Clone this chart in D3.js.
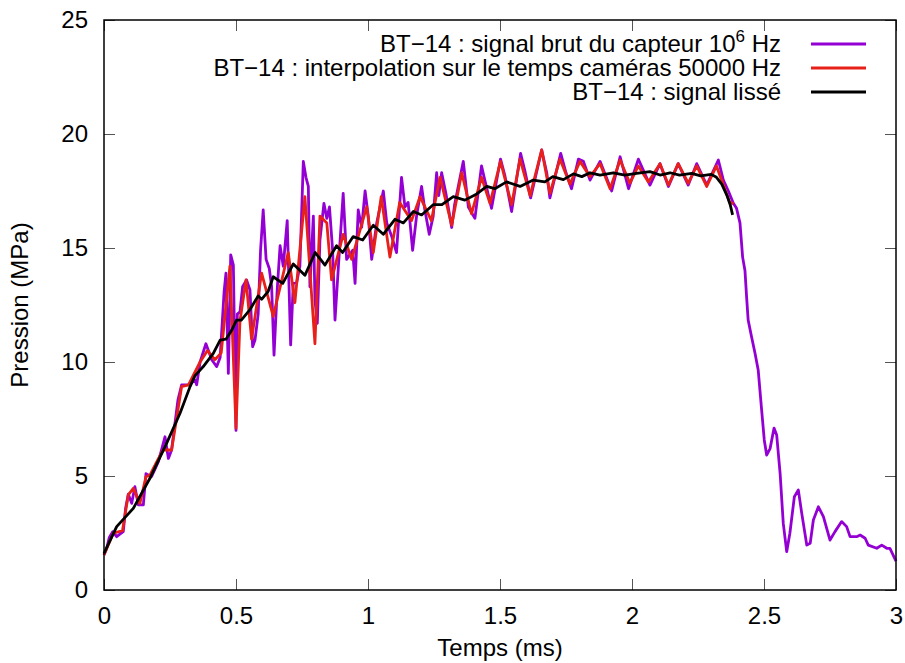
<!DOCTYPE html>
<html>
<head>
<meta charset="utf-8">
<script src="https://cdn.jsdelivr.net/npm/d3@7/dist/d3.min.js"></script>
<style>
  html, body { margin: 0; padding: 0; background: #fff; }
  svg { display: block; font-family: "Liberation Sans", Arial, sans-serif; }
</style>
</head>
<body>
<svg id="chart" width="905" height="663"></svg>
<script>
// Raw sensor signal (1 MHz), time in ms, pressure in MPa
const rawTime = [0,0.01,0.02,0.033,0.048,0.06,0.073,0.082,0.092,0.105,0.117,0.13,0.149,0.159,0.18,0.206,0.231,0.244,0.256,0.28,0.294,0.32,0.345,0.351,0.364,0.386,0.402,0.408,0.427,0.44,0.455,0.462,0.471,0.48,0.49,0.5,0.505,0.515,0.525,0.54,0.553,0.563,0.572,0.584,0.593,0.603,0.614,0.626,0.635,0.644,0.656,0.667,0.679,0.694,0.707,0.717,0.73,0.742,0.755,0.765,0.774,0.78,0.793,0.799,0.808,0.818,0.833,0.844,0.854,0.866,0.875,0.888,0.906,0.919,0.942,0.951,0.963,0.976,0.989,1.001,1.014,1.033,1.058,1.071,1.09,1.108,1.127,1.14,1.152,1.169,1.184,1.203,1.215,1.232,1.247,1.26,1.268,1.279,1.295,1.317,1.328,1.361,1.38,1.405,1.43,1.442,1.468,1.502,1.518,1.544,1.578,1.594,1.616,1.658,1.677,1.689,1.73,1.75,1.771,1.797,1.816,1.841,1.879,1.923,1.955,1.987,2.024,2.068,2.106,2.138,2.175,2.213,2.245,2.283,2.327,2.346,2.365,2.384,2.396,2.409,2.419,2.428,2.434,2.44,2.453,2.466,2.478,2.491,2.501,2.51,2.523,2.538,2.548,2.561,2.573,2.586,2.598,2.615,2.63,2.643,2.662,2.675,2.687,2.706,2.725,2.75,2.769,2.794,2.813,2.826,2.851,2.864,2.883,2.895,2.927,2.946,2.965,2.977,3.0];
const rawValue = [1.54,1.83,2.3,2.56,2.34,2.45,2.56,3.6,4.2,3.8,4.53,3.73,3.73,5.1,4.97,5.63,6.72,5.77,6.14,8.33,9.0,9.0,9.2,9.0,10.0,10.8,10.3,10.1,9.8,10.2,13.1,13.9,9.5,14.7,14.25,7.0,12.1,12.2,13.3,13.6,13.16,10.67,10.96,12.1,14.9,16.67,14.5,14.1,13.3,10.3,13.16,15.1,14.2,16.2,10.75,13.45,13.5,14.2,18.8,18.1,17.7,13.3,16.4,12.7,11.7,15.35,16.96,16.3,16.8,14.9,11.84,14.2,17.4,14.5,14.9,13.45,16.67,15.9,17.5,16.4,14.5,16.1,17.5,16.1,15.5,14.8,18.1,16.8,17.0,14.9,16.4,17.7,16.7,15.6,16.4,18.3,17.3,18.3,17.4,15.9,16.9,18.8,16.8,16.3,18.6,18.0,16.74,18.9,18.2,16.6,19.15,18.4,17.2,19.3,18.3,17.2,19.15,18.3,17.6,18.9,18.8,17.98,18.8,17.5,19.0,17.6,18.9,17.76,18.7,17.7,18.7,17.76,18.7,17.76,18.86,17.98,17.5,16.96,16.74,16.1,14.6,14.0,12.87,11.84,11.1,10.38,9.65,7.9,6.58,5.92,6.2,7.1,6.8,5.12,2.92,1.68,2.49,4.09,4.39,3.36,1.97,2.05,3.07,3.65,3.22,2.19,2.56,3.0,2.78,2.34,2.34,2.41,2.27,1.97,1.83,1.97,1.83,1.83,1.27];

// Signal interpolated on camera frame times (50 kHz)
const interpTime = [0,0.035,0.07,0.092,0.111,0.136,0.159,0.174,0.2,0.224,0.256,0.294,0.32,0.364,0.392,0.42,0.444,0.477,0.5,0.515,0.538,0.559,0.597,0.641,0.698,0.723,0.761,0.799,0.818,0.844,0.862,0.906,0.938,0.995,1.02,1.05,1.083,1.12,1.165,1.197,1.24,1.273,1.317,1.355,1.392,1.43,1.462,1.502,1.544,1.576,1.614,1.658,1.689,1.727,1.765,1.803,1.841,1.879,1.917,1.955,1.992,2.024,2.062,2.106,2.138,2.175,2.213,2.245,2.283,2.32,2.37,2.384];
const interpValue = [1.54,2.49,2.6,4.17,4.46,3.8,4.97,5.04,5.63,6.14,6.14,8.92,9.0,10.0,10.5,10.1,10.4,14.2,7.1,11.8,13.6,11.0,13.9,12.0,14.8,12.6,17.25,10.8,16.4,16.1,13.6,15.6,14.5,16.8,14.8,17.25,14.6,17.0,16.2,17.25,16.2,18.1,16.0,18.3,16.5,18.1,16.96,18.8,16.9,18.9,17.3,19.3,17.4,18.9,17.8,18.8,18.13,18.7,17.6,18.86,17.84,18.6,17.9,18.7,17.76,18.7,17.84,18.6,17.7,18.6,17.0,16.95];

// Smoothed signal
const smoothTime = [0,0.02,0.048,0.111,0.174,0.237,0.288,0.326,0.345,0.376,0.414,0.44,0.462,0.484,0.502,0.52,0.553,0.584,0.597,0.622,0.641,0.677,0.717,0.761,0.8,0.837,0.881,0.904,0.944,0.98,1.02,1.058,1.102,1.134,1.172,1.203,1.247,1.28,1.323,1.367,1.412,1.45,1.48,1.525,1.576,1.626,1.67,1.7,1.74,1.778,1.81,1.841,1.879,1.929,1.973,2.017,2.068,2.106,2.144,2.18,2.226,2.26,2.3,2.32,2.34,2.36,2.372,2.381];
const smoothValue = [1.6,2.1,2.78,3.58,4.9,6.43,7.75,8.92,9.4,9.8,10.38,10.96,11.0,11.4,11.84,11.84,12.3,12.9,12.75,13.1,13.74,13.45,14.3,13.8,14.8,14.25,15.1,14.8,15.5,15.35,16.0,15.6,16.26,16.1,16.6,16.45,16.9,16.9,17.25,17.1,17.37,17.7,17.6,17.9,17.7,17.98,17.9,18.13,18.0,18.25,18.13,18.3,18.2,18.3,18.2,18.27,18.35,18.2,18.3,18.2,18.27,18.16,18.23,18.1,17.8,17.3,16.9,16.45];

const xTicks = [0, 0.5, 1, 1.5, 2, 2.5, 3];
const yTicks = [0, 5, 10, 15, 20, 25];

const seriesNames = [
  "BT\u221214 : signal brut du capteur 10",
  "BT\u221214 : interpolation sur le temps caméras 50000 Hz",
  "BT\u221214 : signal lissé"
];
const seriesColors = ["#9400d3", "#e8201a", "#000000"];

const svg = d3.select("#chart");
const margin = { left: 104, right: 9, top: 20, bottom: 73 };
const W = 905, H = 663;
const x = d3.scaleLinear().domain([0, 3]).range([margin.left, W - margin.right]);
const y = d3.scaleLinear().domain([0, 25]).range([H - margin.bottom, margin.top]);

const tickLen = 11;
const fontSize = 24;

// Axes: ticks pointing inward, mirrored on the opposite side
const gx = svg.append("g").attr("transform", `translate(0,${y(0)})`)
  .call(d3.axisBottom(x).tickValues(xTicks).tickSize(-tickLen).tickPadding(17).tickFormat(d3.format("")));
const gxt = svg.append("g").attr("transform", `translate(0,${y(25)})`)
  .call(d3.axisTop(x).tickValues(xTicks).tickSize(-tickLen).tickFormat(""));
const gy = svg.append("g").attr("transform", `translate(${x(0)},0)`)
  .call(d3.axisLeft(y).tickValues(yTicks).tickSize(-tickLen).tickPadding(16));
const gyr = svg.append("g").attr("transform", `translate(${x(3)},0)`)
  .call(d3.axisRight(y).tickValues(yTicks).tickSize(-tickLen).tickFormat(""));

[gx, gxt, gy, gyr].forEach(g => {
  g.select(".domain").remove();
  g.selectAll(".tick line").attr("stroke", "#555").attr("stroke-width", 1);
  g.selectAll("text").attr("font-size", fontSize).attr("fill", "#000")
    .attr("font-family", "Liberation Sans, Arial, sans-serif");
});

// Curves
const line = d3.line().x(d => x(d[0])).y(d => y(d[1]));
const plot = svg.append("g");
const series = [
  d3.zip(rawTime, rawValue),
  d3.zip(interpTime, interpValue),
  d3.zip(smoothTime, smoothValue)
];
series.forEach((data, i) => {
  plot.append("path").datum(data)
    .attr("fill", "none")
    .attr("stroke", seriesColors[i])
    .attr("stroke-width", 2.8)
    .attr("stroke-linejoin", "round")
    .attr("d", line);
});

// Frame
svg.append("rect")
  .attr("x", x(0)).attr("y", y(25))
  .attr("width", x(3) - x(0)).attr("height", y(0) - y(25))
  .attr("fill", "none").attr("stroke", "#000").attr("stroke-width", 1.5);

// Legend
const legend = svg.append("g");
const legTextX = 781, legLineX0 = 811, legLineX1 = 866;
const legRowY = [44, 68, 92];
seriesNames.forEach((name, i) => {
  const t = legend.append("text")
    .attr("x", legTextX).attr("y", legRowY[i] + 8)
    .attr("text-anchor", "end")
    .attr("font-size", fontSize);
  if (i === 0) {
    t.append("tspan").text(name);
    t.append("tspan").attr("dy", -10).attr("font-size", 17).text("6");
    t.append("tspan").attr("dy", 10).text(" Hz");
  } else {
    t.text(name);
  }
  legend.append("line")
    .attr("x1", legLineX0).attr("x2", legLineX1)
    .attr("y1", legRowY[i]).attr("y2", legRowY[i])
    .attr("stroke", seriesColors[i]).attr("stroke-width", 2.8);
});

// Axis titles
svg.append("text")
  .attr("x", (x(0) + x(3)) / 2).attr("y", 656)
  .attr("text-anchor", "middle").attr("font-size", fontSize)
  .text("Temps (ms)");
svg.append("text")
  .attr("transform", `translate(28,${(y(0) + y(25)) / 2}) rotate(-90)`)
  .attr("text-anchor", "middle").attr("font-size", fontSize)
  .text("Pression (MPa)");
</script>
</body>
</html>
